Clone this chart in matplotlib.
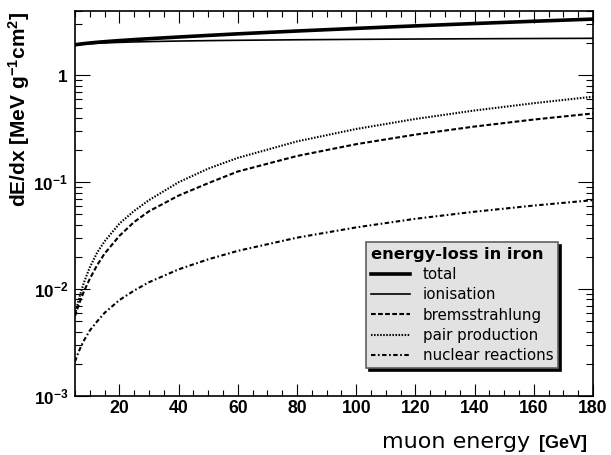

# -*- coding: utf-8 -*-
"""
muon energy loss in iron, split into the different processes
"""

import matplotlib

matplotlib.use("Agg")
import matplotlib.pyplot as plt
import matplotlib.ticker as ticker

# muon energy [GeV]
energy = [5, 6, 7, 8, 10, 12.5, 15, 20, 25, 30, 40, 50, 60, 80, 100, 120, 140, 160, 180]

# dE/dx [MeV g^-1 cm^2]
total = [1.931, 1.949, 1.965, 1.981, 2.009, 2.039, 2.066, 2.115, 2.160, 2.202,
         2.284, 2.364, 2.446, 2.599, 2.751, 2.903, 3.054, 3.207, 3.360]
ionisation = [1.917, 1.932, 1.945, 1.957, 1.976, 1.995, 2.010, 2.035, 2.054, 2.069,
              2.094, 2.113, 2.128, 2.152, 2.171, 2.187, 2.200, 2.211, 2.221]
bremsstrahlung = [0.0056, 0.0068, 0.0081, 0.0095, 0.0125, 0.0168, 0.0215, 0.0315, 0.0425, 0.0535,
                  0.075, 0.098, 0.126, 0.176, 0.227, 0.279, 0.332, 0.386, 0.440]
pair_production = [0.0058, 0.0075, 0.0094, 0.0115, 0.016, 0.022, 0.028, 0.041, 0.054, 0.068,
                   0.100, 0.134, 0.169, 0.241, 0.315, 0.391, 0.469, 0.549, 0.631]
nuclear = [0.0021, 0.0025, 0.0029, 0.0033, 0.0041, 0.0050, 0.0060, 0.0079, 0.0097, 0.0116,
           0.0153, 0.019, 0.0228, 0.0303, 0.0378, 0.0455, 0.0530, 0.0605, 0.068]

series_labels = ["total", "ionisation", "bremsstrahlung", "pair production", "nuclear reactions"]
y_ticks = [1e-3, 1e-2, 1e-1, 1]
y_ticklabels = [r"$10^{-3}$", r"$10^{-2}$", r"$10^{-1}$", r"$1$"]

plt.rcParams["lines.scale_dashes"] = False
plt.rcParams["mathtext.fontset"] = "custom"
plt.rcParams["mathtext.rm"] = "Liberation Sans:bold"
plt.rcParams["mathtext.it"] = "Liberation Sans:bold"
plt.rcParams["mathtext.bf"] = "Liberation Sans:bold"


def get_fig(outfig):
    fig = plt.figure(figsize=(6.11, 4.55), dpi=100)
    ax = fig.add_axes([75 / 611, 59 / 455, 518 / 611, 385 / 455])

    ax.plot(energy, total, color="black", lw=2.6, label=series_labels[0])
    ax.plot(energy, ionisation, color="black", lw=1.2, label=series_labels[1])
    ax.plot(energy, bremsstrahlung, color="black", lw=1.5,
            linestyle=(0, (3.4, 1.7)), label=series_labels[2])
    ax.plot(energy, pair_production, color="black", lw=1.5,
            linestyle=(0, (1.1, 1.1)), label=series_labels[3])
    ax.plot(energy, nuclear, color="black", lw=1.5,
            linestyle=(0, (3.2, 1.8, 1.2, 1.8)), label=series_labels[4])

    ax.set_yscale("log")
    ax.set_xlim(5, 180)
    ax.set_ylim(1e-3, 4)

    ax.xaxis.set_major_locator(ticker.MultipleLocator(20))
    ax.xaxis.set_minor_locator(ticker.MultipleLocator(5))
    ax.yaxis.set_major_locator(ticker.FixedLocator(y_ticks))
    ax.yaxis.set_major_formatter(ticker.FixedFormatter(y_ticklabels))
    ax.yaxis.set_minor_locator(ticker.LogLocator(base=10, subs=range(2, 10)))
    ax.yaxis.set_minor_formatter(ticker.NullFormatter())

    ax.tick_params(which="both", direction="in", top=True, right=True, width=0.8)
    ax.tick_params(axis="x", which="major", length=8.6, pad=3)
    ax.tick_params(axis="x", which="minor", length=4.3)
    ax.tick_params(axis="y", which="major", length=10.8, pad=5)
    ax.tick_params(axis="y", which="minor", length=5)
    for lab in ax.get_xticklabels():
        lab.set_fontfamily("Liberation Sans")
        lab.set_fontweight("bold")
        lab.set_fontsize(12.7)
    for lab in ax.get_yticklabels():
        lab.set_fontsize(12.3)
    for sp in ax.spines.values():
        sp.set_linewidth(1.2)

    # axis titles, root style
    fig.text(19 / 611, 1 - 12 / 455, r"dE/dx [MeV g$^{-1}$cm$^{2}$]",
             rotation=90, ha="center", va="top",
             family="Liberation Sans", fontweight="bold", fontsize=15)
    fig.text(530 / 611, 1 - 448 / 455, "muon energy", ha="right", va="baseline",
             family="DejaVu Sans", fontsize=16)
    fig.text(587 / 611, 1 - 448 / 455, "[GeV]", ha="right", va="baseline",
             family="Liberation Sans", fontweight="bold", fontsize=13)

    leg = ax.legend(
        loc="upper left",
        bbox_to_anchor=(0.562, 0.40),
        title="energy-loss in iron",
        title_fontproperties={"family": "DejaVu Sans", "weight": "bold", "size": 11.7},
        prop={"family": "DejaVu Sans", "size": 10.8},
        frameon=True,
        fancybox=False,
        shadow={"color": "black", "alpha": 1},
        facecolor="#e2e2e2",
        edgecolor="#606060",
        framealpha=1,
        handlelength=2.6,
        handletextpad=0.9,
        labelspacing=0.36,
        borderpad=0.3,
        borderaxespad=0,
        alignment="left",
    )
    leg.get_frame().set_linewidth(1.2)

    fig.savefig(outfig, dpi=100)
    plt.close(fig)


if __name__ == "__main__":
    get_fig("out.png")
